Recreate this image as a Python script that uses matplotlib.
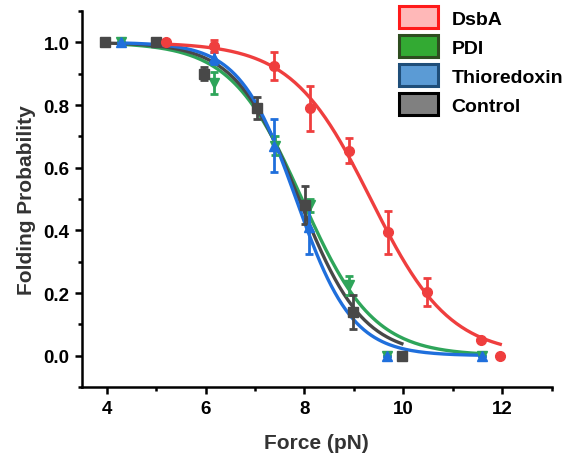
import numpy as np
import matplotlib
matplotlib.use("Agg")
import matplotlib.pyplot as plt
from matplotlib.patches import Patch
from matplotlib.ticker import MultipleLocator

plt.rcParams["font.family"] = ["Liberation Sans", "DejaVu Sans"]
plt.rcParams["font.weight"] = "bold"

# data: force (pN), folding probability, error
dsba_x = [5.19, 6.17, 7.38, 8.12, 8.90, 9.69, 10.48, 11.58, 11.96]
dsba_y = [1.00, 0.988, 0.925, 0.79, 0.654, 0.394, 0.203, 0.049, 0.0]
dsba_err = [0.0, 0.018, 0.045, 0.072, 0.04, 0.069, 0.045, 0.0, 0.0]

pdi_x = [4.28, 6.17, 7.41, 8.12, 8.90, 9.67, 11.59]
pdi_y = [1.00, 0.87, 0.67, 0.48, 0.224, 0.0, 0.0]
pdi_err = [0.0, 0.035, 0.03, 0.02, 0.03, 0.0, 0.0]

trx_x = [4.28, 6.17, 7.39, 8.09, 9.67, 11.59]
trx_y = [1.00, 0.95, 0.67, 0.41, 0.0, 0.0]
trx_err = [0.0, 0.02, 0.085, 0.085, 0.0, 0.0]

ctrl_x = [3.97, 4.99, 5.97, 7.03, 8.01, 8.98, 9.97]
ctrl_y = [1.00, 1.00, 0.90, 0.79, 0.48, 0.14, 0.0]
ctrl_err = [0.0, 0.0, 0.02, 0.035, 0.06, 0.055, 0.0]

labels = ["DsbA", "PDI", "Thioredoxin", "Control"]


def fit_sigmoid(x, y):
    # least squares fit of 1/(1+exp((x-x50)/w)) by grid search
    x = np.asarray(x)[:, None, None]
    y = np.asarray(y)[:, None, None]
    x50 = np.linspace(5, 11, 601)[None, :, None]
    w = np.linspace(0.2, 2.0, 361)[None, None, :]
    pred = 1.0 / (1.0 + np.exp((x - x50) / w))
    sse = ((pred - y) ** 2).sum(axis=0)
    i, j = np.unravel_index(np.argmin(sse), sse.shape)
    return x50[0, i, 0], w[0, 0, j]


fig = plt.figure(figsize=(5.67, 4.60), dpi=100)
ax = fig.add_axes([0.1446, 0.1565, 0.8284, 0.8174])

series = [
    (pdi_x, pdi_y, pdi_err, "#2ea55a", "v"),
    (ctrl_x, ctrl_y, ctrl_err, "#484848", "s"),
    (trx_x, trx_y, trx_err, "#1f6fdc", "^"),
    (dsba_x, dsba_y, dsba_err, "#ef3e3e", "o"),
]

for xs, ys, es, col, mk in series:
    x50, w = fit_sigmoid(xs, ys)
    xf = np.linspace(min(xs), max(xs), 200)
    ax.plot(xf, 1.0 / (1.0 + np.exp((xf - x50) / w)), color=col, lw=2.4, zorder=2)
    ax.errorbar(xs, ys, yerr=es, fmt=mk, color=col, ms=7, elinewidth=2,
                capsize=3, capthick=2, zorder=3)

ax.set_xlim(3.5, 13)
ax.set_ylim(-0.1, 1.1)
ax.xaxis.set_major_locator(MultipleLocator(2))
ax.xaxis.set_minor_locator(MultipleLocator(1))
ax.yaxis.set_major_locator(MultipleLocator(0.2))
ax.yaxis.set_minor_locator(MultipleLocator(0.1))
ax.set_xticks([4, 6, 8, 10, 12])
ax.set_yticks([0.0, 0.2, 0.4, 0.6, 0.8, 1.0])
ax.yaxis.set_major_formatter(matplotlib.ticker.FormatStrFormatter("%.1f"))

for s in ["top", "right"]:
    ax.spines[s].set_visible(False)
for s in ["left", "bottom"]:
    ax.spines[s].set_linewidth(1.8)
ax.tick_params(which="major", direction="out", length=5, width=1.8, labelsize=13.5, pad=4)
ax.tick_params(which="minor", direction="out", length=3, width=1.8)

ax.set_xlabel("Force (pN)", fontsize=15, fontweight="bold", color="#333333", labelpad=12)
ax.set_ylabel("Folding Probability", fontsize=15, fontweight="bold", color="#333333", labelpad=5)

handles = [
    Patch(facecolor="#ffb8b8", edgecolor="#ff1a1a", lw=2.2),
    Patch(facecolor="#33aa33", edgecolor="#2e4d1f", lw=2.2),
    Patch(facecolor="#5b9bd5", edgecolor="#1f4e79", lw=2.2),
    Patch(facecolor="#808080", edgecolor="#000000", lw=2.2),
]
ax.legend(handles, labels, loc="upper left", bbox_to_anchor=(0.675, 1.012),
          frameon=False, fontsize=14, handlelength=2.0, handleheight=1.3,
          labelspacing=0.4, handletextpad=0.7, borderpad=0, borderaxespad=0)

plt.savefig("out.png", dpi=100)
